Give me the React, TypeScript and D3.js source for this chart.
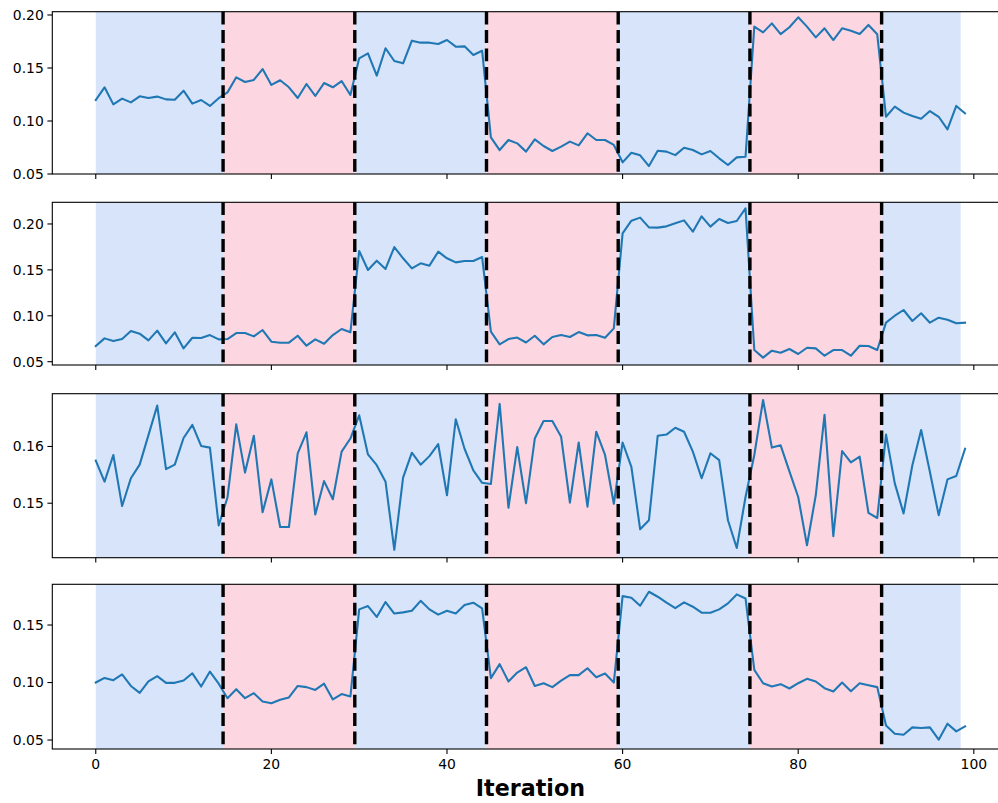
import React from "react";
import * as d3 from "d3";

const iterations: number[] = Array.from({ length: 100 }, (_, i) => i);

const series1: number[] = [
  0.1198, 0.1318, 0.1157, 0.1211, 0.1176, 0.1233, 0.1217, 0.123, 0.1204, 0.12,
  0.1286, 0.1164, 0.1198, 0.1142, 0.1215, 0.127, 0.1412, 0.1368, 0.1387, 0.149,
  0.134, 0.1384, 0.1318, 0.1217, 0.1349, 0.1236, 0.1358, 0.1318, 0.1377, 0.1245,
  0.1591, 0.1638, 0.1428, 0.1686, 0.1566, 0.1544, 0.1758, 0.1739, 0.1739, 0.1726,
  0.1764, 0.1701, 0.1704, 0.1623, 0.1663, 0.0846, 0.0726, 0.0821, 0.0789, 0.0711,
  0.0827, 0.0764, 0.0717, 0.0758, 0.0805, 0.077, 0.0884, 0.0821, 0.0821, 0.0774,
  0.061, 0.0701, 0.0676, 0.0575, 0.072, 0.0711, 0.0678, 0.0748, 0.0726, 0.0685,
  0.0717, 0.0648, 0.0585, 0.0657, 0.0663, 0.189, 0.1836, 0.1921, 0.182, 0.1884,
  0.1978, 0.189, 0.1789, 0.1874, 0.1764, 0.1874, 0.1852, 0.182, 0.1906, 0.1818,
  0.104, 0.1135, 0.1079, 0.1047, 0.1022, 0.1094, 0.104, 0.0921, 0.1142, 0.1072,
];

const series2: number[] = [
  0.0671, 0.0754, 0.0725, 0.0747, 0.0834, 0.0805, 0.0732, 0.0838, 0.07, 0.082,
  0.0645, 0.0761, 0.0758, 0.079, 0.0743, 0.0747, 0.0812, 0.0812, 0.0776, 0.0845,
  0.0718, 0.0707, 0.0707, 0.0783, 0.0674, 0.0743, 0.0696, 0.079, 0.0856, 0.082,
  0.1706, 0.1499, 0.16, 0.151, 0.1749, 0.1626, 0.1517, 0.1571, 0.1546, 0.1698,
  0.1626, 0.1582, 0.1597, 0.1597, 0.164, 0.0827, 0.0689, 0.0747, 0.0763, 0.0709,
  0.0783, 0.0689, 0.0769, 0.079, 0.0769, 0.0823, 0.0787, 0.079, 0.0761, 0.0863,
  0.1898, 0.2036, 0.2069, 0.1963, 0.196, 0.1974, 0.2007, 0.2039, 0.1916, 0.2083,
  0.1971, 0.2054, 0.201, 0.2032, 0.217, 0.0627, 0.0544, 0.062, 0.0598, 0.0638,
  0.0584, 0.0652, 0.0645, 0.0565, 0.0627, 0.0627, 0.0565, 0.0674, 0.0671, 0.0627,
  0.0925, 0.1001, 0.1063, 0.0943, 0.1027, 0.0925, 0.0979, 0.0957, 0.0918, 0.0925,
];

const series3: number[] = [
  0.1575, 0.1538, 0.1585, 0.1495, 0.1544, 0.1568, 0.162, 0.1672, 0.156, 0.1568,
  0.1615, 0.1638, 0.1601, 0.1598, 0.1461, 0.151, 0.1639, 0.1554, 0.1619, 0.1484,
  0.1542, 0.1458, 0.1458, 0.1588, 0.1625, 0.148, 0.1539, 0.1507, 0.1591, 0.1614,
  0.1655, 0.1586, 0.1567, 0.1538, 0.1418, 0.1545, 0.1589, 0.1568, 0.1583, 0.1604,
  0.1514, 0.1648, 0.1596, 0.1558, 0.1536, 0.1534, 0.1675, 0.1492, 0.1599, 0.15,
  0.1614, 0.1645, 0.1645, 0.1617, 0.1501, 0.1607, 0.1494, 0.1626, 0.1585, 0.1499,
  0.1607, 0.1564, 0.1454, 0.147, 0.1619, 0.1621, 0.1633, 0.1626, 0.1591, 0.1544,
  0.1588, 0.1576, 0.147, 0.1421, 0.1511, 0.1585, 0.1682, 0.1598, 0.1602, 0.1556,
  0.1511, 0.1426, 0.1514, 0.1656, 0.1442, 0.1592, 0.1572, 0.1582, 0.1483, 0.1474,
  0.1621, 0.1535, 0.1482, 0.1567, 0.1629, 0.1555, 0.1479, 0.1542, 0.1548, 0.1596,
];

const series4: number[] = [
  0.1, 0.104, 0.102, 0.107, 0.097, 0.091, 0.101, 0.1055, 0.0997, 0.0997,
  0.1017, 0.108, 0.0965, 0.1095, 0.099, 0.0864, 0.0942, 0.0864, 0.0907, 0.0835,
  0.082, 0.085, 0.087, 0.097, 0.096, 0.0936, 0.099, 0.0853, 0.09, 0.0878,
  0.1636, 0.1665, 0.157, 0.17, 0.16, 0.161, 0.1624, 0.171, 0.1636, 0.159,
  0.1624, 0.16, 0.1673, 0.1694, 0.1645, 0.1038, 0.116, 0.1009, 0.1087, 0.1133,
  0.097, 0.0994, 0.096, 0.1017, 0.1064, 0.1064, 0.1124, 0.1046, 0.1078, 0.1,
  0.1751, 0.1737, 0.1668, 0.1789, 0.1746, 0.1694, 0.1647, 0.1697, 0.1659, 0.1607,
  0.1607, 0.1636, 0.1688, 0.1766, 0.1731, 0.111, 0.0994, 0.0965, 0.0986, 0.0948,
  0.0994, 0.1032, 0.1009, 0.0951, 0.0922, 0.1, 0.0925, 0.0994, 0.0977, 0.096,
  0.0627, 0.0555, 0.0546, 0.061, 0.0604, 0.061, 0.0503, 0.0642, 0.0575, 0.0618,
];

const allSeries: number[][] = [series1, series2, series3, series4];

const yDomains: [number, number][] = [
  [0.05, 0.2031],
  [0.0464, 0.2236],
  [0.1404, 0.1693],
  [0.0422, 0.1854],
];

const yTicks: number[][] = [
  [0.05, 0.1, 0.15, 0.2],
  [0.05, 0.1, 0.15, 0.2],
  [0.15, 0.16],
  [0.05, 0.1, 0.15],
];

const xTicks: number[] = [0, 20, 40, 60, 80, 100];

// phase boundaries (shaded spans) and change points (dashed lines)
const spanStarts: number[] = [0, 14.5, 29.5, 44.5, 59.5, 74.5, 89.5];
const spanEnds: number[] = [14.5, 29.5, 44.5, 59.5, 74.5, 89.5, 98.5];
const spanKinds: string[] = ["A", "B", "A", "B", "A", "B", "A"];
const changePoints: number[] = [14.5, 29.5, 44.5, 59.5, 74.5, 89.5];

const xLabel = "Iteration";

const W = 998;
const H = 803;
const panelTops = [11.7, 202.3, 393.7, 584.3];
const panelBottoms = [174, 365, 557.7, 749];
const LEFT = 52.3;
const RIGHT = 1008.5;
const FONT = "'DejaVu Sans', sans-serif";
const spanColor: Record<string, string> = { A: "#d7e4fa", B: "#fcd6e0" };

export default function App() {
  const x = d3.scaleLinear().domain([-4.95, 103.95]).range([LEFT, RIGHT]);
  const fmt = d3.format(".2f");

  return (
    <svg
      width={W}
      height={H}
      style={{ position: "absolute", left: 0, top: 0, display: "block", background: "#fff" }}
      fontFamily={FONT}
    >
      {allSeries.map((vals, p) => {
        const top = panelTops[p];
        const bottom = panelBottoms[p];
        const y = d3.scaleLinear().domain(yDomains[p]).range([bottom, top]);
        const line = d3
          .line<number>()
          .x((_, i) => x(iterations[i]))
          .y((d) => y(d));
        const isLast = p === allSeries.length - 1;
        return (
          <g key={p}>
            {spanStarts.map((s, k) => (
              <rect
                key={k}
                x={x(s)}
                y={top}
                width={x(spanEnds[k]) - x(s)}
                height={bottom - top}
                fill={spanColor[spanKinds[k]]}
              />
            ))}
            <path d={line(vals) || ""} fill="none" stroke="#1f77b4" strokeWidth={2.08} strokeLinejoin="round" strokeLinecap="square" />
            {changePoints.map((c, k) => (
              <line
                key={k}
                x1={x(c)}
                x2={x(c)}
                y1={top}
                y2={bottom}
                stroke="#000"
                strokeWidth={3.4}
                strokeDasharray="12.8,5.6"
              />
            ))}
            <rect x={LEFT} y={top} width={RIGHT - LEFT} height={bottom - top} fill="none" stroke="#000" strokeWidth={1.1} />
            {xTicks.map((t) => (
              <g key={t}>
                <line x1={x(t)} x2={x(t)} y1={bottom} y2={bottom + 4.9} stroke="#000" strokeWidth={1.1} />
                {isLast && (
                  <text x={x(t)} y={bottom + 9.8} dy="0.76em" textAnchor="middle" fontSize={13.9} fill="#000">
                    {t}
                  </text>
                )}
              </g>
            ))}
            {yTicks[p].map((t) => (
              <g key={t}>
                <line x1={LEFT - 4.9} x2={LEFT} y1={y(t)} y2={y(t)} stroke="#000" strokeWidth={1.1} />
                <text x={LEFT - 8.5} y={y(t)} dy="0.35em" textAnchor="end" fontSize={13.9} fill="#000">
                  {fmt(t)}
                </text>
              </g>
            ))}
          </g>
        );
      })}
      <text x={(LEFT + RIGHT) / 2} y={796} textAnchor="middle" fontSize={22.2} fontWeight="bold" fill="#000">
        {xLabel}
      </text>
    </svg>
  );
}
